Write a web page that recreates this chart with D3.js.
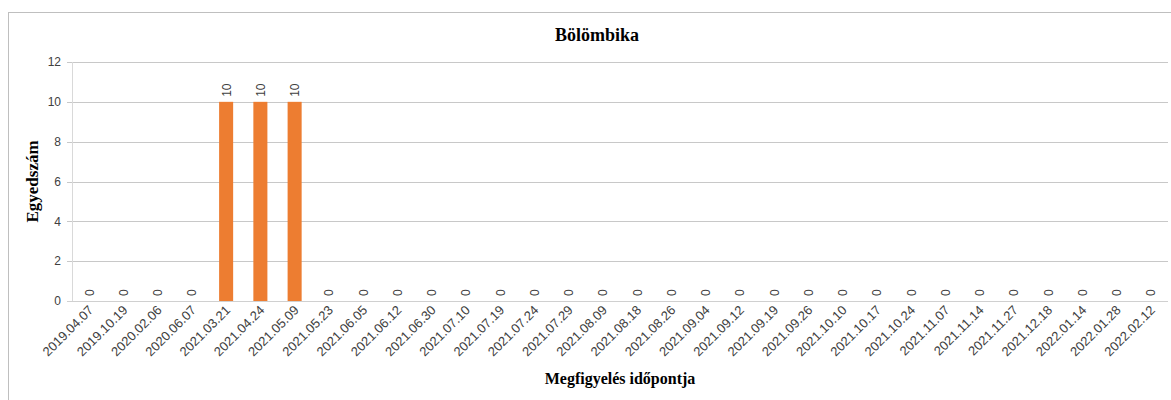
<!DOCTYPE html>
<html><head><meta charset="utf-8">
<script src="https://cdn.jsdelivr.net/npm/d3@7"></script>
<style>body{margin:0;background:#fff}svg{display:block}</style>
</head><body>
<script>
const categories = ["2019.04.07","2019.10.19","2020.02.06","2020.06.07","2021.03.21","2021.04.24","2021.05.09","2021.05.23","2021.06.05","2021.06.12","2021.06.30","2021.07.10","2021.07.19","2021.07.24","2021.07.29","2021.08.09","2021.08.18","2021.08.26","2021.09.04","2021.09.12","2021.09.19","2021.09.26","2021.10.10","2021.10.17","2021.10.24","2021.11.07","2021.11.14","2021.11.27","2021.12.18","2022.01.14","2022.01.28","2022.02.12"];
const values = [0,0,0,0,10,10,10,0,0,0,0,0,0,0,0,0,0,0,0,0,0,0,0,0,0,0,0,0,0,0,0,0];
const yTicks = [0,2,4,6,8,10,12];
const title = "Bölömbika";
const yTitle = "Egyedszám";
const xTitle = "Megfigyelés időpontja";

const W = 1171, H = 400;
const m = {left:72, right:1168, top:62, bottom:301};
const svg = d3.select("body").append("svg").attr("width",W).attr("height",H);

svg.append("rect").attr("x",8.5).attr("y",12.5).attr("width",1180).attr("height",420)
  .attr("fill","#fff").attr("stroke","#bfbfbf").attr("stroke-width",1);

const x = d3.scaleBand().domain(categories).range([m.left,m.right]).paddingInner(0.59).paddingOuter(0.295);
const y = d3.scaleLinear().domain([0,12]).range([m.bottom,m.top]);

svg.append("g").selectAll("line").data(yTicks).join("line")
  .attr("x1",m.left-5).attr("x2",m.right)
  .attr("y1",d=>Math.round(y(d))+0.5).attr("y2",d=>Math.round(y(d))+0.5)
  .attr("stroke",d=>d===0?"#d0d0d0":"#c8c8c8").attr("stroke-width",1);
svg.append("line").attr("x1",m.left+0.5).attr("x2",m.left+0.5).attr("y1",m.top).attr("y2",m.bottom)
  .attr("stroke","#d9d9d9");

svg.append("g").selectAll("text").data(yTicks).join("text")
  .attr("x",m.left-11).attr("y",d=>y(d)).attr("dy","0.35em").attr("text-anchor","end")
  .attr("font-family","Liberation Sans, Arial, sans-serif").attr("font-size",12).attr("fill","#404040")
  .text(d=>d);

svg.append("g").selectAll("rect").data(values).join("rect")
  .attr("x",(d,i)=>x(categories[i])).attr("width",x.bandwidth())
  .attr("y",d=>y(d)).attr("height",d=>y(0)-y(d)).attr("fill","#ED7D31");

svg.append("g").selectAll("text").data(values).join("text")
  .attr("transform",(d,i)=>`translate(${x(categories[i])+x.bandwidth()/2+4.5},${y(d)-5}) rotate(-90)`)
  .attr("text-anchor","start")
  .attr("font-family","Liberation Sans, Arial, sans-serif").attr("font-size",12).attr("fill","#404040")
  .text(d=>d);

svg.append("g").selectAll("text").data(categories).join("text")
  .attr("transform",d=>`translate(${x(d)+x.bandwidth()/2+5},${m.bottom+10}) rotate(-45)`)
  .attr("text-anchor","end")
  .attr("font-family","Liberation Sans, Arial, sans-serif").attr("font-size",13).attr("fill","#404040")
  .text(d=>d);

svg.append("text").attr("x",(m.left+m.right)/2-23).attr("y",41).attr("text-anchor","middle")
  .attr("font-family","Liberation Serif, Times New Roman, serif").attr("font-weight","bold").attr("font-size",18).attr("fill","#000")
  .text(title);
svg.append("text").attr("transform",`translate(38,${(m.top+m.bottom)/2}) rotate(-90)`).attr("text-anchor","middle")
  .attr("font-family","Liberation Serif, Times New Roman, serif").attr("font-weight","bold").attr("font-size",17).attr("fill","#000")
  .text(yTitle);
svg.append("text").attr("x",(m.left+m.right)/2).attr("y",384).attr("text-anchor","middle")
  .attr("font-family","Liberation Serif, Times New Roman, serif").attr("font-weight","bold").attr("font-size",16).attr("fill","#000")
  .text(xTitle);
</script>
</body></html>
